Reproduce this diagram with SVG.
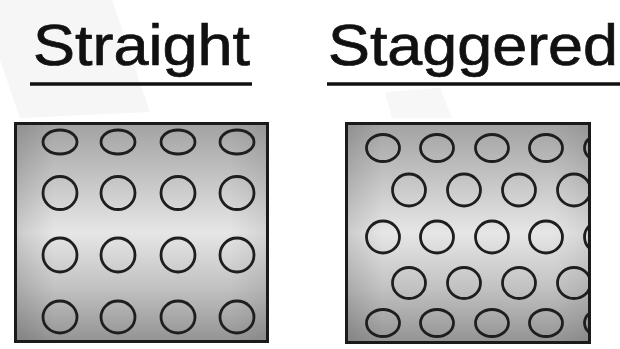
<svg xmlns="http://www.w3.org/2000/svg" width="620" height="349" viewBox="0 0 620 349">
  <style>
    .title { font-family: "Liberation Sans", Arial, sans-serif; font-size: 57px; fill: #111; stroke: #111; stroke-width: 0.7; }
    .ul { stroke: #111; stroke-width: 3.5; }
    .box { stroke: #1a1a1a; stroke-width: 3; }
    .hole { fill: none; stroke: #1e1e1e; stroke-width: 2.8; }
  </style>
  <defs>
    <linearGradient id="metal" x1="0" y1="0" x2="0" y2="1">
      <stop offset="0" stop-color="#a2a2a2"/>
      <stop offset="0.25" stop-color="#c4c4c4"/>
      <stop offset="0.5" stop-color="#e6e6e6"/>
      <stop offset="0.75" stop-color="#c2c2c2"/>
      <stop offset="1" stop-color="#939393"/>
    </linearGradient>
    <linearGradient id="side" x1="0" y1="0" x2="1" y2="0">
      <stop offset="0" stop-color="#000" stop-opacity="0.12"/>
      <stop offset="0.15" stop-color="#000" stop-opacity="0"/>
      <stop offset="0.85" stop-color="#000" stop-opacity="0"/>
      <stop offset="1" stop-color="#000" stop-opacity="0.08"/>
    </linearGradient>
    <clipPath id="clipR">
      <rect x="346.5" y="123.5" width="243" height="219"/>
    </clipPath>
  </defs>
  <rect width="620" height="349" fill="#ffffff"/>
  <polygon points="0,0 112,0 150,112 20,118 0,60" fill="#f6f6f6"/>
  <polygon points="385,92 440,88 452,118 392,118" fill="#f7f7f7"/>

  <g id="straight">
    <text class="title" x="33" y="65" textLength="217" lengthAdjust="spacingAndGlyphs">Straight</text>
    <line class="ul" x1="30" y1="84" x2="252" y2="84"/>
    <rect class="box" x="15.5" y="123.5" width="252" height="218" fill="url(#metal)"/>
    <rect x="17" y="125" width="249" height="215" fill="url(#side)"/>
    <g>
      <ellipse class="hole" cx="60" cy="142" rx="17" ry="12"/>
      <ellipse class="hole" cx="118" cy="142" rx="17" ry="12"/>
      <ellipse class="hole" cx="178" cy="142" rx="17" ry="12"/>
      <ellipse class="hole" cx="237" cy="142" rx="17" ry="12"/>
      <ellipse class="hole" cx="60" cy="193" rx="17" ry="16.5"/>
      <ellipse class="hole" cx="118" cy="193" rx="17" ry="16.5"/>
      <ellipse class="hole" cx="178" cy="193" rx="17" ry="16.5"/>
      <ellipse class="hole" cx="237" cy="193" rx="17" ry="16.5"/>
      <ellipse class="hole" cx="60" cy="255" rx="17" ry="17"/>
      <ellipse class="hole" cx="118" cy="255" rx="17" ry="17"/>
      <ellipse class="hole" cx="178" cy="255" rx="17" ry="17"/>
      <ellipse class="hole" cx="237" cy="255" rx="17" ry="17"/>
      <ellipse class="hole" cx="60" cy="317" rx="17" ry="16"/>
      <ellipse class="hole" cx="118" cy="317" rx="17" ry="16"/>
      <ellipse class="hole" cx="178" cy="317" rx="17" ry="16"/>
      <ellipse class="hole" cx="237" cy="317" rx="17" ry="16"/>
    </g>
  </g>

  <g id="staggered">
    <text class="title" x="328" y="65" textLength="290" lengthAdjust="spacingAndGlyphs">Staggered</text>
    <line class="ul" x1="327" y1="84" x2="620" y2="84"/>
    <rect x="346.5" y="123.5" width="243" height="219" fill="url(#metal)"/>
    <rect x="346.5" y="123.5" width="243" height="219" fill="url(#side)"/>
    <g clip-path="url(#clipR)">
      <ellipse class="hole" cx="383" cy="148" rx="16.5" ry="13.5"/>
      <ellipse class="hole" cx="437" cy="148" rx="16.5" ry="13.5"/>
      <ellipse class="hole" cx="492" cy="148" rx="16.5" ry="13.5"/>
      <ellipse class="hole" cx="546" cy="148" rx="16.5" ry="13.5"/>
      <ellipse class="hole" cx="601" cy="148" rx="16.5" ry="13.5"/>
      <ellipse class="hole" cx="409" cy="190" rx="16.5" ry="16"/>
      <ellipse class="hole" cx="464" cy="190" rx="16.5" ry="16"/>
      <ellipse class="hole" cx="519" cy="190" rx="16.5" ry="16"/>
      <ellipse class="hole" cx="574" cy="190" rx="16.5" ry="16"/>
      <ellipse class="hole" cx="383" cy="237" rx="16.5" ry="16"/>
      <ellipse class="hole" cx="437" cy="237" rx="16.5" ry="16"/>
      <ellipse class="hole" cx="492" cy="237" rx="16.5" ry="16"/>
      <ellipse class="hole" cx="546" cy="237" rx="16.5" ry="16"/>
      <ellipse class="hole" cx="601" cy="237" rx="16.5" ry="16"/>
      <ellipse class="hole" cx="409" cy="283" rx="16.5" ry="15.5"/>
      <ellipse class="hole" cx="464" cy="283" rx="16.5" ry="15.5"/>
      <ellipse class="hole" cx="519" cy="283" rx="16.5" ry="15.5"/>
      <ellipse class="hole" cx="574" cy="283" rx="16.5" ry="15.5"/>
      <ellipse class="hole" cx="383" cy="323" rx="16.5" ry="13.5"/>
      <ellipse class="hole" cx="437" cy="323" rx="16.5" ry="13.5"/>
      <ellipse class="hole" cx="492" cy="323" rx="16.5" ry="13.5"/>
      <ellipse class="hole" cx="546" cy="323" rx="16.5" ry="13.5"/>
      <ellipse class="hole" cx="601" cy="323" rx="16.5" ry="13.5"/>
    </g>
    <rect class="box" x="346.5" y="123.5" width="243" height="219" fill="none"/>
  </g>
</svg>
